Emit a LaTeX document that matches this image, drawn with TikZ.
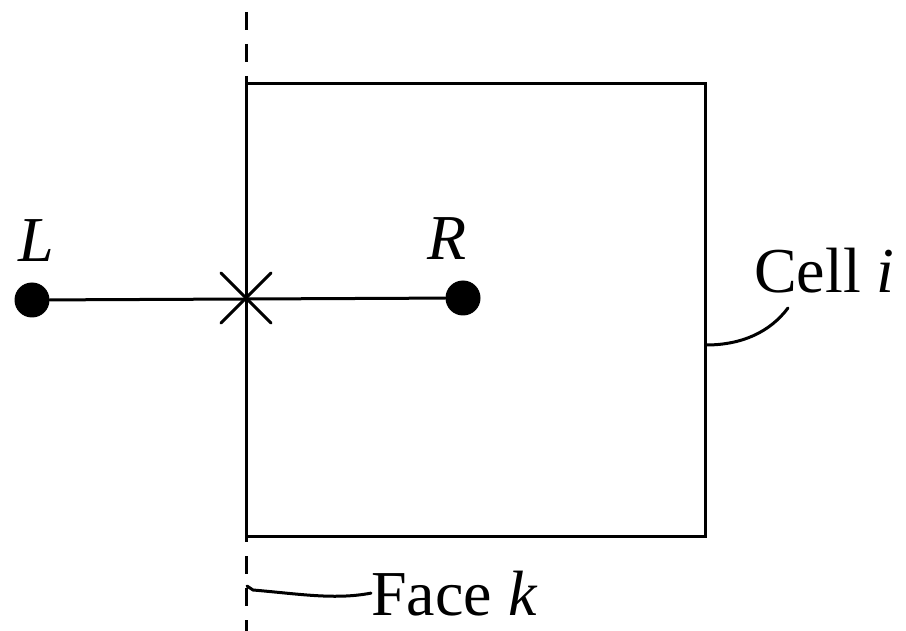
\documentclass[tikz,border=0pt]{standalone}
\usepackage{fontspec}
\setmainfont{Liberation Serif}
\usetikzlibrary{calc}
\begin{document}
\begin{tikzpicture}[x=1pt,y=-1pt,
  ln/.style={line width=3pt, line cap=round},
  dotnode/.style={circle, fill=black, inner sep=0pt, minimum size=35pt},
  lbl/.style={inner sep=0pt, font=\fontsize{64}{66}\selectfont},
  cellbox/.style={draw, line width=3pt, inner sep=0pt, minimum width=459pt, minimum height=452pt}]
\useasboundingbox (0,0) rectangle (906,631);
% face dashed line
\coordinate (ftop) at (246,12);
\coordinate (fbot) at (246,640);
\draw[line width=3pt, dash pattern=on 18pt off 14pt] (ftop) -- (fbot);
% cell
\node[cellbox] (cell) at (475.5,310) {};
% points
\node[dotnode] (L) at (32,300) {};
\node[dotnode] (R) at (463,298) {};
\draw[ln] (L) -- (R);
\coordinate (X) at (246,298);
\draw[ln] ($(X)+(-25,-25)$) -- ($(X)+(25,25)$);
\draw[ln] ($(X)+(-25,25)$) -- ($(X)+(25,-25)$);
% labels
\node[lbl, anchor=base] (Ll) at (36,262) {\itshape L};
\node[lbl, anchor=base] (Rl) at (447,260) {\itshape R};
\node[lbl, anchor=base west] (celltxt) at (754,293) {Cell \textit{i}};
\node[lbl, anchor=base west] (facetxt) at (371,615) {Face \textit{k}};
% leaders
\coordinate (cellpt) at (706,345);
\coordinate (cellend) at (788,308);
\draw[ln] (cellpt) .. controls (742,345) and (770,332) .. (cellend);
\coordinate (facept) at (247,586);
\draw[ln] (facept) -- (253,590) .. controls (300,594) and (335,600) .. (facetxt.west);
\end{tikzpicture}
\end{document}
